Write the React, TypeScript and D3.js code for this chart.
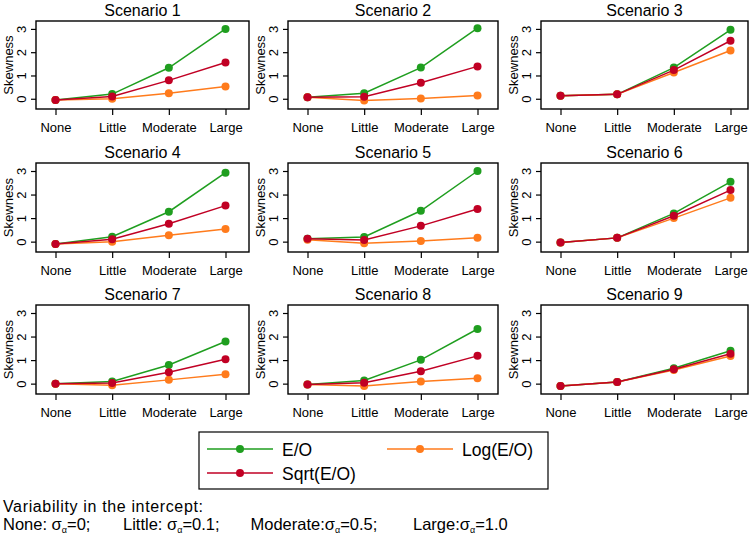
import { useEffect, useRef } from "react";
import * as d3 from "d3";

const levels = ["None", "Little", "Moderate", "Large"];
const scenarios = ["Scenario 1", "Scenario 2", "Scenario 3", "Scenario 4", "Scenario 5", "Scenario 6", "Scenario 7", "Scenario 8", "Scenario 9"];
const yTicks = [0, 1, 2, 3];

// skewness per scenario, in order None, Little, Moderate, Large
const eoSkew = [
  [-0.05, 0.2, 1.33, 3.0],
  [0.07, 0.24, 1.34, 3.03],
  [0.13, 0.19, 1.34, 2.96],
  [-0.1, 0.21, 1.27, 2.93],
  [0.12, 0.2, 1.31, 3.0],
  [-0.04, 0.16, 1.2, 2.54],
  [0.0, 0.09, 0.79, 1.79],
  [-0.04, 0.13, 1.01, 2.32],
  [-0.1, 0.07, 0.65, 1.4],
];
const sqrtSkew = [
  [-0.05, 0.1, 0.79, 1.56],
  [0.07, 0.09, 0.69, 1.39],
  [0.13, 0.19, 1.23, 2.49],
  [-0.1, 0.1, 0.76, 1.53],
  [0.12, 0.07, 0.67, 1.39],
  [-0.04, 0.16, 1.1, 2.19],
  [0.0, 0.03, 0.48, 1.04],
  [-0.04, 0.04, 0.53, 1.18],
  [-0.1, 0.07, 0.61, 1.27],
];
const logSkew = [
  [-0.05, 0.0, 0.24, 0.53],
  [0.07, -0.07, 0.01, 0.14],
  [0.13, 0.19, 1.13, 2.07],
  [-0.1, 0.0, 0.27, 0.54],
  [0.08, -0.07, 0.03, 0.17],
  [-0.04, 0.16, 1.0, 1.86],
  [0.0, -0.07, 0.16, 0.4],
  [-0.04, -0.1, 0.09, 0.23],
  [-0.1, 0.07, 0.58, 1.17],
];

const seriesNames = ["E/O", "Log(E/O)", "Sqrt(E/O)"];
const footerParts = [
  { label: "None: ", value: "=0;" },
  { label: "Little: ", value: "=0.1;" },
  { label: "Moderate:", value: "=0.5;" },
  { label: "Large:", value: "=1.0" },
];

const GREEN = "#1f9e1f";
const ORANGE = "#ff7b1c";
const RED = "#c10024";
const FONT = "'Liberation Sans', Arial, Helvetica, sans-serif";

export default function App() {
  const ref = useRef<SVGSVGElement>(null);

  useEffect(() => {
    if (!ref.current) return;
    const svg = d3.select(ref.current);
    svg.selectAll("*").remove();
    svg.append("rect").attr("width", 750).attr("height", 537).attr("fill", "#fff");

    const colLeft = [36, 288, 541];
    const colRight = [249, 498, 748];
    const rowTop = [21, 163, 305];
    const rowBottom = [109, 252, 394];

    const series = [
      { data: eoSkew, color: GREEN },
      { data: logSkew, color: ORANGE },
      { data: sqrtSkew, color: RED },
    ];

    scenarios.forEach((name, i) => {
      const c = i % 3;
      const r = Math.floor(i / 3);
      const l = colLeft[c], rt = colRight[c], t = rowTop[r], b = rowBottom[r];
      const x = d3.scaleLinear().domain([1, 4]).range([l + 19.5, l + 189.5]);
      const y = d3.scaleLinear().domain([-0.44, 3.34]).range([b, t]);
      const g = svg.append("g");

      // title
      g.append("text")
        .attr("x", (l + rt) / 2).attr("y", t - 5.5)
        .attr("text-anchor", "middle")
        .attr("font-family", FONT).attr("font-size", 16)
        .text(name);

      // x axis
      const xa = g.append("g")
        .attr("transform", `translate(0,${b})`)
        .call(d3.axisBottom(x).tickValues([1, 2, 3, 4]).tickSize(6).tickPadding(8)
          .tickFormat((d) => levels[(d as number) - 1]));
      xa.select(".domain").remove();
      xa.selectAll("line").attr("stroke", "#000").attr("stroke-width", 1.2);
      xa.selectAll("text").attr("font-family", FONT).attr("font-size", 13).attr("fill", "#000");

      // y axis
      const ya = g.append("g")
        .attr("transform", `translate(${l},0)`)
        .call(d3.axisLeft(y).tickValues(yTicks).tickSize(5).tickFormat(d3.format("d")));
      ya.select(".domain").remove();
      ya.selectAll("line").attr("stroke", "#000").attr("stroke-width", 1.2);
      ya.selectAll("text")
        .attr("font-family", FONT).attr("font-size", 13).attr("fill", "#000")
        .attr("text-anchor", "middle").attr("dy", null)
        .attr("x", null)
        .attr("transform", "translate(-10.5,0) rotate(-90)");

      g.append("text")
        .attr("transform", `translate(${l - 23},${(t + b) / 2}) rotate(-90)`)
        .attr("text-anchor", "middle")
        .attr("font-family", FONT).attr("font-size", 13)
        .text("Skewness");

      // box
      g.append("rect")
        .attr("x", l).attr("y", t).attr("width", rt - l).attr("height", b - t)
        .attr("fill", "none").attr("stroke", "#000").attr("stroke-width", 1.4);

      const line = d3.line<number>().x((_, k) => x(k + 1)).y((d) => y(d));
      series.forEach((s) => {
        const vals = s.data[i];
        g.append("path").attr("d", line(vals) as string)
          .attr("fill", "none").attr("stroke", s.color).attr("stroke-width", 1.5);
        g.selectAll(null).data(vals).enter().append("circle")
          .attr("cx", (_, k) => x(k + 1)).attr("cy", (d) => y(d)).attr("r", 4)
          .attr("fill", s.color);
      });
    });

    // legend
    const lg = svg.append("g");
    lg.append("rect").attr("x", 199).attr("y", 432).attr("width", 349).attr("height", 57)
      .attr("fill", "#fff").attr("stroke", "#000").attr("stroke-width", 1.2);
    const legendItems = [
      { name: seriesNames[0], color: GREEN, x: 207, y: 449 },
      { name: seriesNames[2], color: RED, x: 207, y: 473 },
      { name: seriesNames[1], color: ORANGE, x: 387, y: 449 },
    ];
    legendItems.forEach((it) => {
      lg.append("line").attr("x1", it.x).attr("x2", it.x + 66).attr("y1", it.y).attr("y2", it.y)
        .attr("stroke", it.color).attr("stroke-width", 1.5);
      lg.append("circle").attr("cx", it.x + 33).attr("cy", it.y).attr("r", 4).attr("fill", it.color);
      lg.append("text").attr("x", it.x + 75).attr("y", it.y + 6.5)
        .attr("font-family", FONT).attr("font-size", 17.5).text(it.name);
    });

    // footer
    svg.append("text").attr("x", 3).attr("y", 512)
      .attr("font-family", FONT).attr("font-size", 16)
      .attr("textLength", 200).attr("lengthAdjust", "spacing")
      .text("Variability in the intercept:");
    const fx = [3, 123, 250.5, 413];
    footerParts.forEach((p, k) => {
      const tx = svg.append("text").attr("x", fx[k]).attr("y", 530)
        .attr("font-family", FONT).attr("font-size", 16.5);
      tx.append("tspan").text(p.label + "σ");
      tx.append("tspan").attr("font-size", 9).attr("dy", 2.5).text("α");
      tx.append("tspan").attr("dy", -2.5).text(p.value);
    });
  }, []);

  return (
    <svg
      ref={ref}
      width={750}
      height={537}
      style={{ position: "absolute", left: 0, top: 0, display: "block" }}
    />
  );
}
